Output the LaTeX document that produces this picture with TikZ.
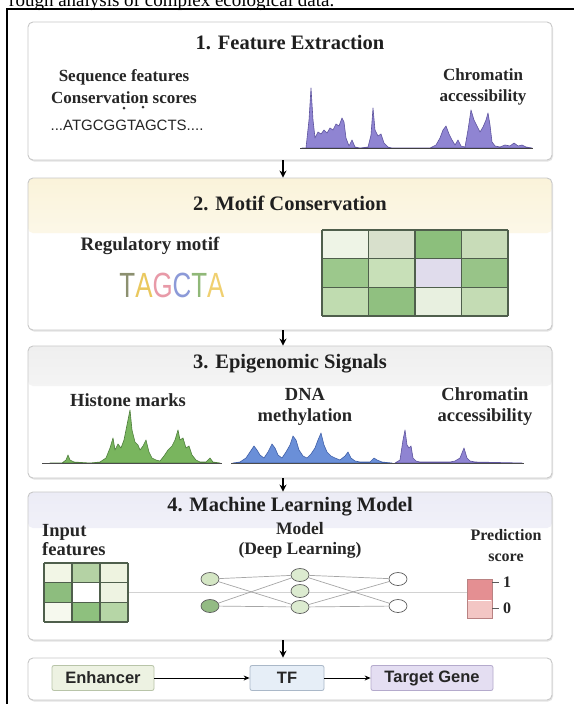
\documentclass[tikz,border=0pt]{standalone}
\usepackage{fontspec}
\setmainfont{Liberation Serif}
\newfontfamily\sansf{Liberation Sans}
\newfontfamily\sanscond[FakeStretch=0.74]{Liberation Sans}
\usetikzlibrary{arrows.meta,shadows,shapes.geometric}
\definecolor{pborder}{HTML}{C8C8C8}
\definecolor{band2}{HTML}{FAF3DA}
\definecolor{band3}{HTML}{EFEFEF}
\definecolor{band4}{HTML}{ECECF6}
\definecolor{purfill}{HTML}{8F84D2}
\definecolor{purline}{HTML}{5E549E}
\definecolor{grfill}{HTML}{79B55E}
\definecolor{grline}{HTML}{4E7F3C}
\definecolor{blfill}{HTML}{6A8FD8}
\definecolor{blline}{HTML}{3F5FA8}
\definecolor{gridln}{HTML}{4F5F4C}
% motif grid colours
\definecolor{m0}{HTML}{EEF4E6}\definecolor{m1}{HTML}{D8E0CC}\definecolor{m2}{HTML}{8CBF7C}\definecolor{m3}{HTML}{C8DCB8}
\definecolor{m4}{HTML}{9CC88C}\definecolor{m5}{HTML}{C8E0B8}\definecolor{m6}{HTML}{E0DCEC}\definecolor{m7}{HTML}{98C488}
\definecolor{m8}{HTML}{C0DCB0}\definecolor{m9}{HTML}{90C080}\definecolor{m10}{HTML}{E8F0E0}\definecolor{m11}{HTML}{C4DCB4}
% input grid colours
\definecolor{q0}{HTML}{F2F6E6}\definecolor{q1}{HTML}{B4D2A4}\definecolor{q2}{HTML}{EEF3E0}
\definecolor{q3}{HTML}{8DBD7E}\definecolor{q4}{HTML}{FFFFFF}\definecolor{q5}{HTML}{EEF3E2}
\definecolor{q6}{HTML}{F6F9EE}\definecolor{q7}{HTML}{8EC07E}\definecolor{q8}{HTML}{B6D6A6}
% network / bars / boxes
\definecolor{nl1}{HTML}{D4E6C4}\definecolor{nl2}{HTML}{93BB84}\definecolor{nmid}{HTML}{DCEBD0}
\definecolor{barhi}{HTML}{E48F92}\definecolor{barlo}{HTML}{F3C6C4}\definecolor{barln}{HTML}{B98282}
\definecolor{enhf}{HTML}{EDF2E2}\definecolor{enhd}{HTML}{B8C4A8}
\definecolor{tff}{HTML}{E6EEF7}\definecolor{tfd}{HTML}{AAB8C8}
\definecolor{tgf}{HTML}{E4DEF2}\definecolor{tgd}{HTML}{B4AACC}
\definecolor{mT}{HTML}{8C9070}\definecolor{mA}{HTML}{EAC85E}\definecolor{mG}{HTML}{E89AA8}
\definecolor{mC}{HTML}{8C9AD8}\definecolor{mT2}{HTML}{90B878}\definecolor{mA2}{HTML}{F0D070}
\begin{document}
\begin{tikzpicture}[x=1pt,y=-1pt,
  panel/.style={draw=pborder, line width=0.9pt, rounded corners=5pt, fill=white,
    drop shadow={shadow xshift=1pt, shadow yshift=-1.5pt, opacity=0.3, fill=black!35},
    minimum width=524pt, inner sep=0pt},
  ttl/.style={font=\bfseries\fontsize{20.5}{24}\selectfont, text=black!88},
  lab/.style={font=\bfseries\fontsize{17}{19}\selectfont, text=black!85, align=center, inner sep=0pt},
  labbig/.style={lab, font=\bfseries\fontsize{18.5}{19}\selectfont},
  arr/.style={-{Stealth[length=7pt,width=7pt]}, line width=1.4pt},
  smallarr/.style={-{Stealth[length=6pt,width=5pt]}, line width=0.9pt},
  gbox/.style={rounded corners=2pt, line width=0.8pt, minimum height=25pt, inner sep=0pt,
    font=\sansf\bfseries\fontsize{16.5}{18}\selectfont, text=black!85},
  nn/.style={ellipse, draw=gray!75!black, line width=0.7pt, minimum width=18pt, minimum height=13pt, inner sep=0pt},
  edge/.style={draw=gray!70, line width=0.7pt}
]
\useasboundingbox (0,0) rectangle (574,704);
\fill[white] (0,0) rectangle (574,704);

% cut-off caption line at the top
\node[anchor=base west, inner sep=0pt, font=\fontsize{19}{19}\selectfont] (caption) at (9,6) {rough analysis of complex ecological data.};
% outer frame (only top and left visible)
\draw[line width=1.6pt] (7,704) -- (7,9) -- (574,9);

% ---------------- panels ----------------
\node[panel, minimum height=138pt] (p1) at (290,91) {};
\node[panel, minimum height=152pt,
  path picture={\shade[top color=band2, bottom color=white]
    (path picture bounding box.north west) rectangle ([yshift=-55pt]path picture bounding box.north east);}]
  (p2) at (290,254) {};
\node[panel, minimum height=132pt,
  path picture={\shade[top color=band3, bottom color=white]
    (path picture bounding box.north west) rectangle ([yshift=-40pt]path picture bounding box.north east);}]
  (p3) at (290,412) {};
\node[panel, minimum height=148pt,
  path picture={\shade[top color=band4, bottom color=white]
    (path picture bounding box.north west) rectangle ([yshift=-36pt]path picture bounding box.north east);}]
  (p4) at (290,566) {};
\node[panel, minimum height=42pt] (p5) at (290,679) {};

% arrows between panels
\draw[arr] ([xshift=-7pt]p1.south) -- ([xshift=-7pt]p2.north);
\draw[arr] ([xshift=-7pt]p2.south) -- ([xshift=-7pt]p3.north);
\draw[arr] ([xshift=-7pt]p3.south) -- ([xshift=-7pt]p4.north);
\draw[arr] ([xshift=-7pt]p4.south) -- ([xshift=-7pt]p5.north);

% ---------------- panel 1 ----------------
\node[ttl] (t1) at (290,43) {1. Feature Extraction};
\node[lab] (seqf) at (124,77) {Sequence features};
\node[lab] (cons) at (124,98) {Conservation scores};
\fill[black!80] (cons.south) ++(0,4) circle (1.5pt) ++(19,-1) circle (1.5pt);
\node[inner sep=0pt, font=\sansf\fontsize{15}{17}\selectfont, text=black!85] (seq) at (127,125) {...ATGCGGTAGCTS....};
\node[lab] (chr1) at (483,87) {Chromatin\\[2pt]accessibility};

\filldraw[fill=purfill, draw=purline, line width=0.6pt, line join=round]
 (302,148) -- (306,148) -- (309,120) -- (311,88) -- (313,120) -- (315,138) -- (318,132) -- (321,134) -- (324,130) -- (327,133) -- (330,128) -- (333,130) -- (336,124) -- (339,126) -- (342,118) -- (344,122) -- (346,138) -- (349,146) -- (352,140) -- (355,147) -- (360,148) -- (368,147) -- (371,135) -- (373,108) -- (375,130) -- (378,136) -- (381,134) -- (384,143) -- (388,147) -- (392,148) -- (430,148) -- (436,145) -- (440,138) -- (443,130) -- (446,126) -- (449,134) -- (452,140) -- (455,145) -- (458,140) -- (461,146) -- (465,147) -- (468,130) -- (471,110) -- (474,120) -- (477,126) -- (480,132) -- (483,127) -- (486,120) -- (488,113) -- (490,125) -- (492,142) -- (495,146) -- (500,147) -- (505,145) -- (510,146) -- (514,143) -- (518,146) -- (522,145) -- (526,147) -- (532,148) -- cycle;
\draw[black!75, line width=1pt] (300,148) -- (533,148);

% ---------------- panel 2 ----------------
\node[ttl] (t2) at (290,203) {2. Motif Conservation};
\node[lab, font=\bfseries\fontsize{19}{21}\selectfont] (regm) at (150,246) {Regulatory motif};
\node[inner sep=0pt, font=\sanscond\fontsize{35}{35}\selectfont] (motif) at (172,285)
 {\textcolor{mT}{T}\textcolor{mA}{A}\textcolor{mG}{G}\textcolor{mC}{C}\textcolor{mT2}{T}\textcolor{mA2}{A}};
\foreach \k in {0,...,11}{
  \pgfmathtruncatemacro\rr{int(\k/4)}
  \pgfmathtruncatemacro\cc{mod(\k,4)}
  \fill[m\k] (322+\cc*46.5, 230+\rr*28.667) rectangle ++(46.5,28.667);
}
\foreach \i in {0,...,4} \draw[gridln, line width=1.1pt] (322+\i*46.5,230) -- (322+\i*46.5,316);
\foreach \j in {0,...,3} \draw[gridln, line width=1.1pt] (322,230+\j*28.667) -- (508,230+\j*28.667);

% ---------------- panel 3 ----------------
\node[ttl] (t3) at (290,364) {3. Epigenomic Signals};
\node[labbig] (hist) at (128,400) {Histone marks};
\node[labbig] (dnam) at (305,407) {DNA\\[2pt]methylation};
\node[labbig] (chr3) at (485,407) {Chromatin\\[2pt]accessibility};

\filldraw[fill=grfill, draw=grline, line width=0.6pt, line join=round]
 (50,463) -- (62,463) -- (66,460) -- (68,455) -- (70,460) -- (74,462) -- (90,463) -- (100,462) -- (106,458) -- (110,448) -- (113,438) -- (115,450) -- (118,444) -- (121,448) -- (124,440) -- (127,425) -- (130,410) -- (132,430) -- (135,442) -- (138,445) -- (140,450) -- (143,446) -- (146,440) -- (149,452) -- (152,458) -- (156,460) -- (160,461) -- (164,456) -- (168,450) -- (172,446) -- (175,440) -- (178,430) -- (180,440) -- (183,438) -- (186,448) -- (189,446) -- (192,455) -- (196,460) -- (200,462) -- (206,462) -- (210,458) -- (213,462) -- (220,463) -- cycle;
\filldraw[fill=blfill, draw=blline, line width=0.6pt, line join=round]
 (233,463) -- (240,462) -- (246,458) -- (250,452) -- (254,446) -- (257,450) -- (260,455) -- (264,458) -- (268,452) -- (272,444) -- (275,448) -- (278,455) -- (282,458) -- (286,452) -- (290,445) -- (293,436) -- (296,440) -- (299,450) -- (303,456) -- (307,458) -- (311,454) -- (315,448) -- (318,440) -- (321,433) -- (324,445) -- (327,452) -- (331,456) -- (335,458) -- (340,460) -- (345,456) -- (348,452) -- (351,458) -- (355,461) -- (360,462) -- (370,462) -- (374,458) -- (377,460) -- (382,462) -- (392,463) -- cycle;
\filldraw[fill=purfill, draw=purline, line width=0.6pt, line join=round]
 (395,463) -- (400,460) -- (403,440) -- (405,430) -- (407,445) -- (409,448) -- (411,446) -- (413,458) -- (416,461) -- (420,462) -- (450,462) -- (455,461) -- (460,458) -- (464,448) -- (467,458) -- (470,461) -- (475,462) -- (522,463) -- cycle;
\draw[black!70, line width=1pt] (42,463) -- (222,463);
\draw[black!70, line width=1pt] (231,463) -- (524,463);

% ---------------- panel 4 ----------------
\node[ttl] (t4) at (290,507) {4. Machine Learning Model};
\node[labbig, font=\bfseries\fontsize{18.5}{19}\selectfont, align=left, anchor=north west] (inpf) at (42,524) {Input\\[0pt]features};
\node[labbig, font=\bfseries\fontsize{17.5}{19}\selectfont] (modl) at (300,540) {Model\\[1pt](Deep Learning)};
\node[lab, font=\bfseries\fontsize{16}{19}\selectfont] (pred) at (506,546) {Prediction\\[2pt]score};

% faint guide line
\draw[gray!35, line width=0.8pt] (128,592) -- (467,592);
% input grid
\foreach \k in {0,...,8}{
  \pgfmathtruncatemacro\rr{int(\k/3)}
  \pgfmathtruncatemacro\cc{mod(\k,3)}
  \fill[q\k] (44+\cc*28, 563+\rr*19.667) rectangle ++(28,19.667);
}
\foreach \i in {0,...,3} \draw[gridln, line width=1.1pt] (44+\i*28,563) -- (44+\i*28,622);
\foreach \j in {0,...,3} \draw[gridln, line width=1.1pt] (44,563+\j*19.667) -- (128,563+\j*19.667);

% network
\node[nn, fill=nl1] (l1) at (210,579) {};
\node[nn, fill=nl2] (l2) at (210,606) {};
\node[nn, fill=nmid] (m1) at (300,575) {};
\node[nn, fill=nmid] (m2) at (300,591) {};
\node[nn, fill=nmid] (m3) at (300,607) {};
\node[nn, fill=white] (r1) at (398,579) {};
\node[nn, fill=white] (r2) at (398,606) {};
\draw[edge] (l1) -- (m1);
\draw[edge] (l1) -- (m3);
\draw[edge] (l2) -- (m1);
\draw[edge] (l2) -- (m3);
\draw[edge] (m1) -- (r1);
\draw[edge] (m1) -- (r2);
\draw[edge] (m3) -- (r1);
\draw[edge] (m3) -- (r2);

% prediction bars
\fill[barhi] (467,579) rectangle (492,600);
\fill[barlo] (467,600) rectangle (492,618);
\draw[barln, line width=0.7pt] (467,579) rectangle (492,618);
\draw[white, line width=1pt] (468,600) -- (491,600);
\draw[gray!70!black, line width=0.8pt] (492,582) -- (499,582);
\draw[gray!70!black, line width=0.8pt] (492,608) -- (499,608);
\node[lab, font=\bfseries\fontsize{16}{18}\selectfont] (one) at (507,582) {1};
\node[lab, font=\bfseries\fontsize{16}{18}\selectfont] (zero) at (507,608) {0};

% ---------------- panel 5 ----------------
\node[gbox, fill=enhf, draw=enhd, minimum width=102pt] (enh) at (103,678) {Enhancer};
\node[gbox, fill=tff, draw=tfd, minimum width=74pt] (tf) at (287,678) {TF};
\node[gbox, fill=tgf, draw=tgd, minimum width=122pt] (tg) at (432,678) {Target Gene};
\draw[smallarr] (enh) -- (tf);
\draw[smallarr] (tf) -- (tg);
\end{tikzpicture}
\end{document}
